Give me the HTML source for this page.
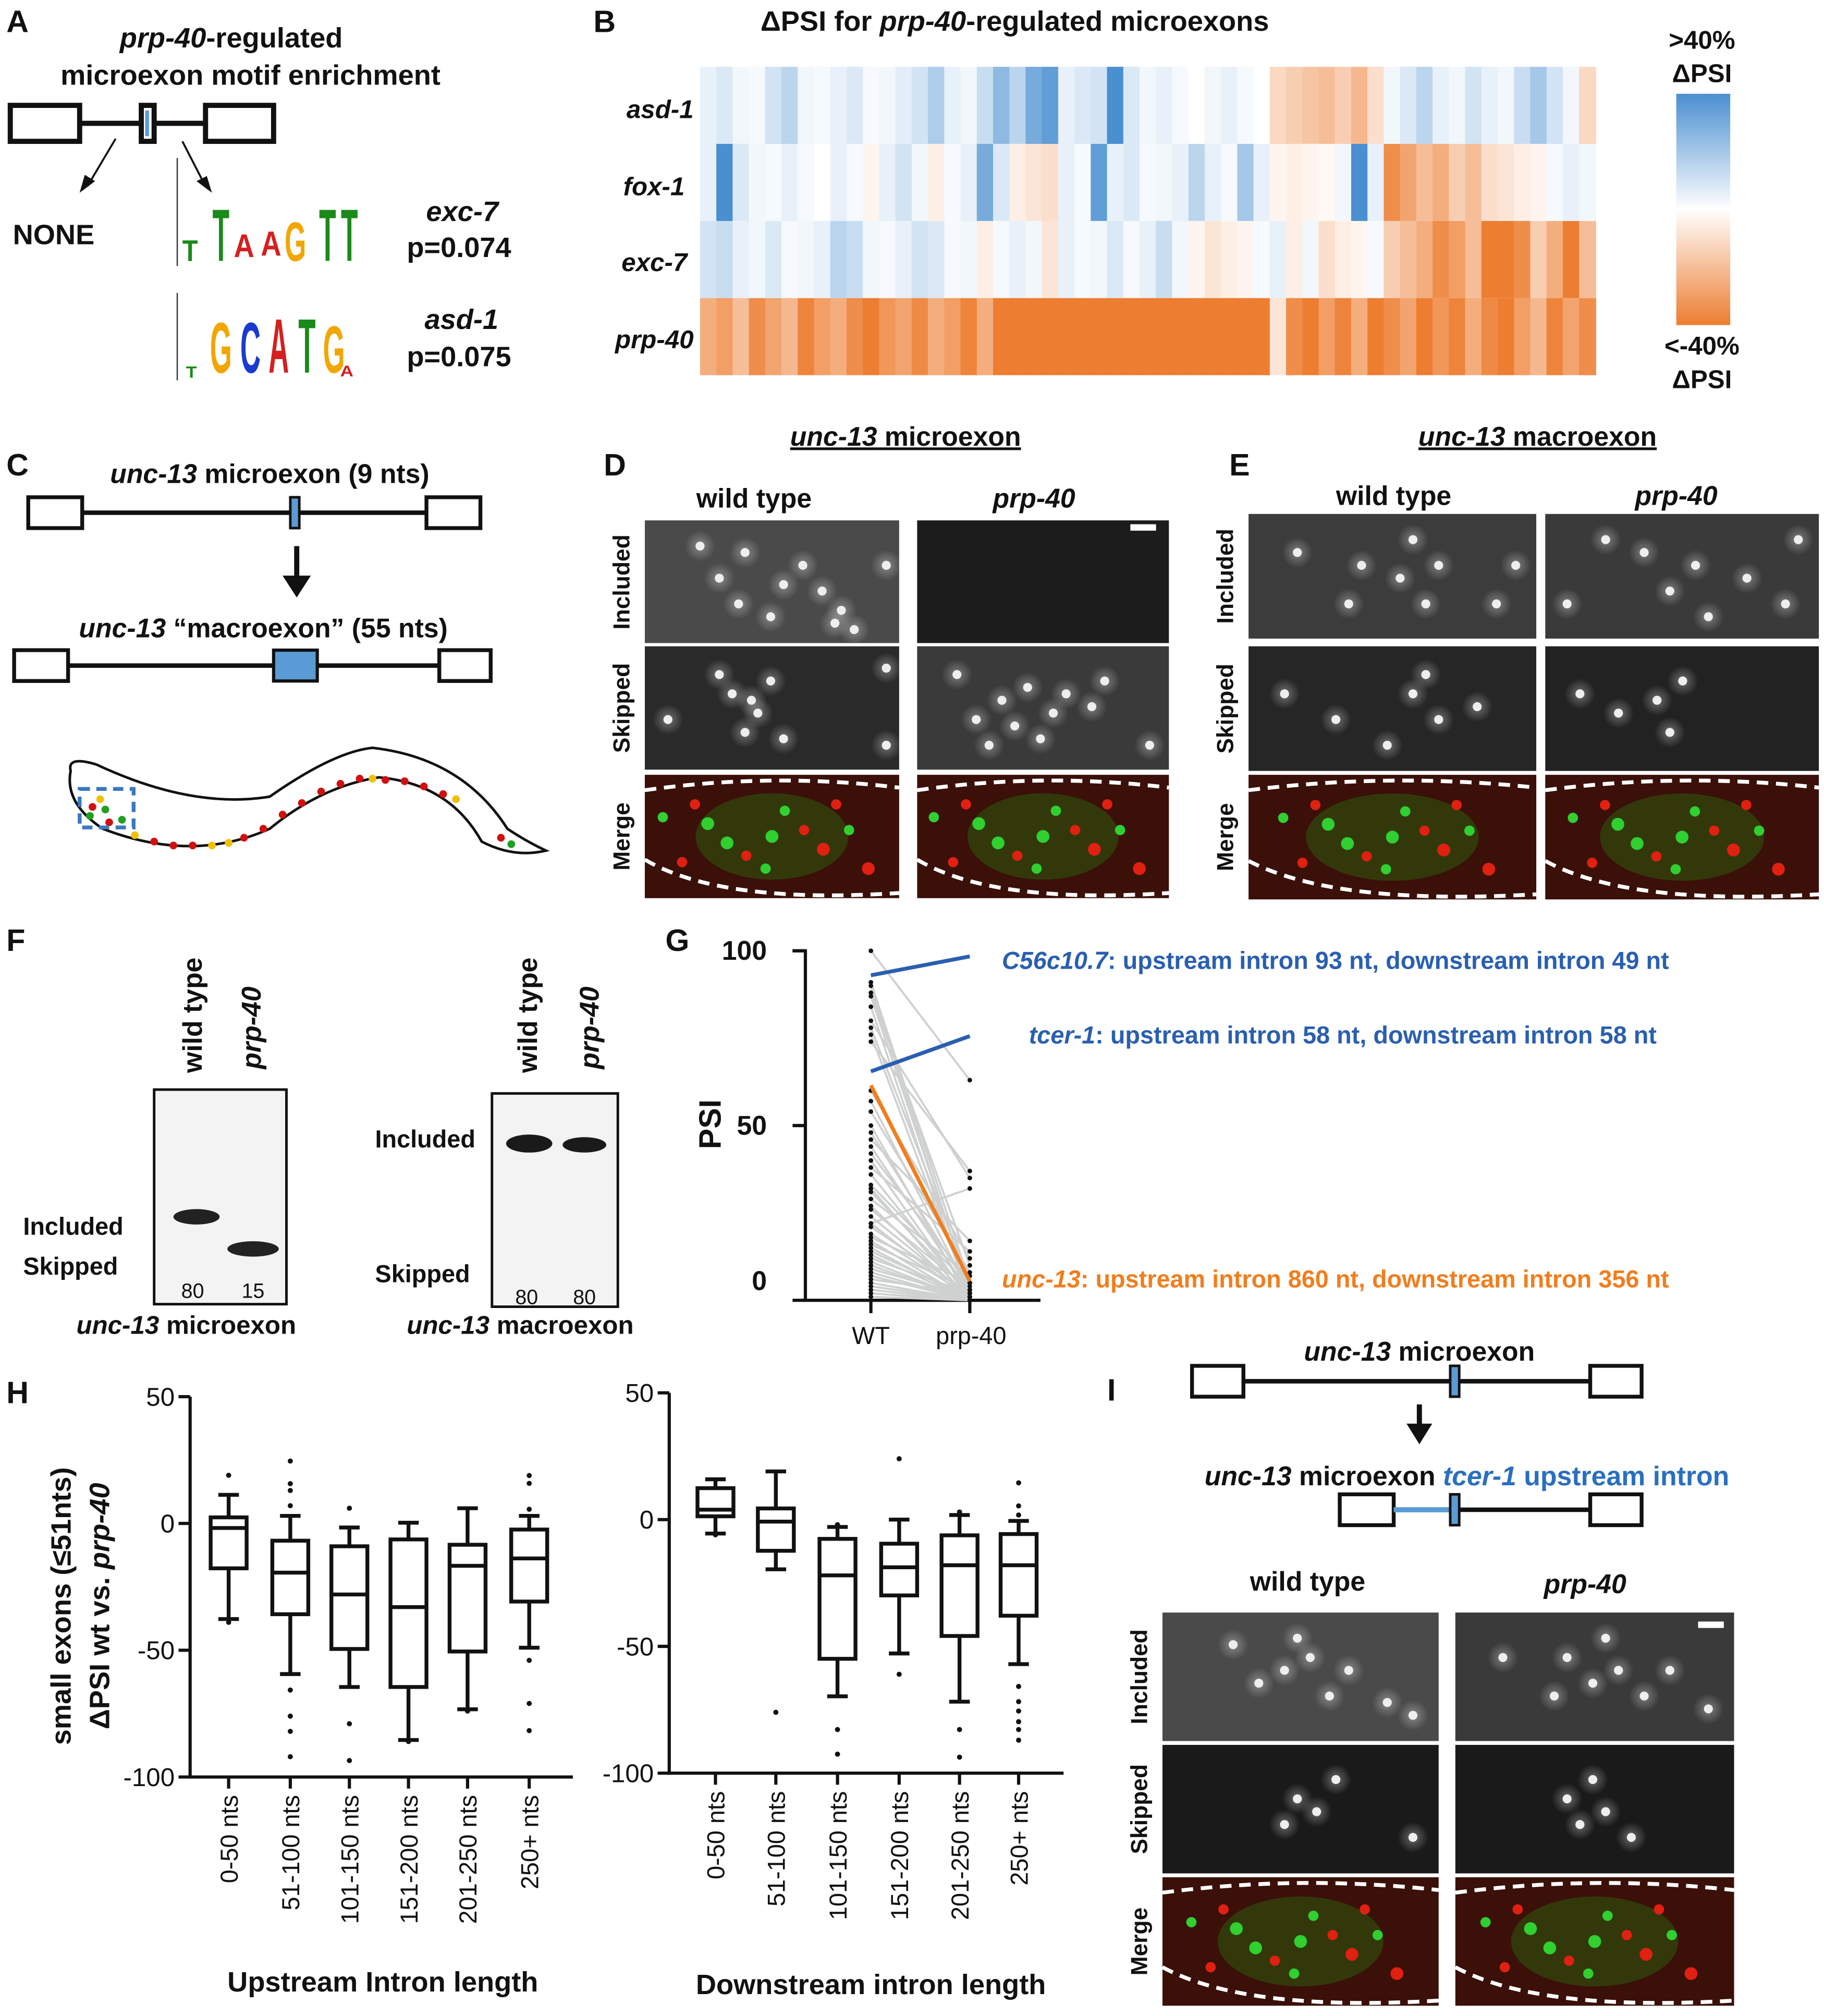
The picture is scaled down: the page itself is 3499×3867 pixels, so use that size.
<!DOCTYPE html>
<html><head><meta charset="utf-8"><style>
html,body{margin:0;padding:0;background:#fff}
svg{display:block}
text{font-family:"Liberation Sans",sans-serif;font-weight:bold;fill:#111}
.it{font-style:italic}
</style></head><body>
<svg id="fig" width="3499" height="3867" viewBox="0 0 1420 1569" preserveAspectRatio="none" xmlns="http://www.w3.org/2000/svg">
<defs>
<linearGradient id="cbar" x1="0" y1="0" x2="0" y2="1"><stop offset="0" stop-color="#4a8fd0"/><stop offset="0.5" stop-color="#ffffff"/><stop offset="1" stop-color="#ed7d31"/></linearGradient>
<radialGradient id="glowW"><stop offset="0" stop-color="#fff"/><stop offset="1" stop-color="#fff" stop-opacity="0"/></radialGradient>
</defs>

<!-- Panel A -->
<g>
<text x="5" y="25" font-size="24">A</text>
<text x="180" y="37" font-size="22" text-anchor="middle"><tspan class="it">prp-40</tspan>-regulated</text>
<text x="195" y="66" font-size="22" text-anchor="middle">microexon motif enrichment</text>
<rect x="8" y="82" width="54" height="28" fill="#fff" stroke="#111" stroke-width="4"/>
<line x1="62" y1="96" x2="160" y2="96" stroke="#111" stroke-width="4"/>
<rect x="110" y="82" width="10" height="28" fill="#fff" stroke="#111" stroke-width="4"/>
<rect x="113" y="86" width="3" height="20" fill="#5b9bd5"/>
<rect x="160" y="82" width="53" height="28" fill="#fff" stroke="#111" stroke-width="4"/>
<line x1="90" y1="108" x2="68" y2="145" stroke="#111" stroke-width="1.5"/><polygon points="62,150 66,136 74,141" fill="#111"/>
<line x1="142" y1="110" x2="160" y2="145" stroke="#111" stroke-width="1.5"/><polygon points="165,150 153,141 161,137" fill="#111"/>
<text x="10" y="190" font-size="22">NONE</text>
<text x="388" y="172" font-size="22" text-anchor="end" class="it">exc-7</text>
<text x="398" y="200" font-size="22" text-anchor="end">p=0.074</text>
<text x="388" y="256" font-size="22" text-anchor="end" class="it">asd-1</text>
<text x="398" y="285" font-size="22" text-anchor="end">p=0.075</text>
<g>
<line x1="138" y1="123" x2="138" y2="207" stroke="#333" stroke-width="1"/>
<text transform="translate(148,203) scale(1.1,1.3)" font-size="18" text-anchor="middle" style="fill:#1a8a1a">T</text>
<text transform="translate(172,203) scale(1.2,3.2)" font-size="18" text-anchor="middle" style="fill:#1a8a1a">T</text>
<text transform="translate(190,200) scale(1.3,1.5)" font-size="17" text-anchor="middle" style="fill:#d42020">A</text>
<text transform="translate(211,199) scale(1.3,1.6)" font-size="17" text-anchor="middle" style="fill:#d42020">A</text>
<text transform="translate(230,203) scale(1.2,2.4)" font-size="18" text-anchor="middle" style="fill:#f2a600">G</text>
<text transform="translate(255,203) scale(1.2,3.2)" font-size="18" text-anchor="middle" style="fill:#1a8a1a">T</text>
<text transform="translate(272,203) scale(1.2,3.2)" font-size="18" text-anchor="middle" style="fill:#1a8a1a">T</text>
</g>
<g>
<line x1="138" y1="228" x2="138" y2="296" stroke="#333" stroke-width="1"/>
<text transform="translate(149,294) scale(1,0.9)" font-size="14" text-anchor="middle" style="fill:#1a8a1a">T</text>
<text transform="translate(172,290) scale(1.1,2.8)" font-size="20" text-anchor="middle" style="fill:#f2a600">G</text>
<text transform="translate(195,290) scale(1.1,2.8)" font-size="20" text-anchor="middle" style="fill:#1a3ad0">C</text>
<text transform="translate(217,290) scale(1.1,3)" font-size="20" text-anchor="middle" style="fill:#d42020">A</text>
<text transform="translate(239,290) scale(1.1,3)" font-size="20" text-anchor="middle" style="fill:#1a8a1a">T</text>
<text transform="translate(260,290) scale(1.1,2.6)" font-size="20" text-anchor="middle" style="fill:#f2a600">G</text>
<text transform="translate(270,293) scale(1.2,1)" font-size="12" text-anchor="middle" style="fill:#d42020">A</text>
</g>
</g>

<!-- Panel B -->
<g>
<text x="462" y="25" font-size="24">B</text>
<text x="790" y="24" font-size="22" text-anchor="middle">ΔPSI for <tspan class="it">prp-40</tspan>-regulated microexons</text>
<text x="540" y="92" font-size="20" text-anchor="end" class="it">asd-1</text>
<text x="533" y="152" font-size="20" text-anchor="end" class="it">fox-1</text>
<text x="535" y="211" font-size="20" text-anchor="end" class="it">exc-7</text>
<text x="540" y="271" font-size="20" text-anchor="end" class="it">prp-40</text>
<g id="heat"></g>
<text x="1325" y="38" font-size="20" text-anchor="middle">&gt;40%</text>
<text x="1325" y="64" font-size="20" text-anchor="middle">ΔPSI</text>
<rect x="1305" y="73" width="42" height="180" fill="url(#cbar)"/>
<text x="1325" y="276" font-size="20" text-anchor="middle">&lt;-40%</text>
<text x="1325" y="302" font-size="20" text-anchor="middle">ΔPSI</text>
</g>

<!-- Panel C -->
<g>
<text x="5" y="370" font-size="24">C</text>
<text x="210" y="376" font-size="21" text-anchor="middle"><tspan class="it">unc-13</tspan> microexon (9 nts)</text>
<rect x="22" y="387" width="42" height="24" fill="#fff" stroke="#111" stroke-width="3"/>
<line x1="64" y1="399" x2="332" y2="399" stroke="#111" stroke-width="3.5"/>
<rect x="226" y="387" width="7" height="24" fill="#5b9bd5" stroke="#111" stroke-width="2"/>
<rect x="332" y="387" width="42" height="24" fill="#fff" stroke="#111" stroke-width="3"/>
<line x1="231" y1="425" x2="231" y2="450" stroke="#111" stroke-width="4"/><polygon points="220,448 242,448 231,465" fill="#111"/>
<text x="205" y="496" font-size="21" text-anchor="middle"><tspan class="it">unc-13</tspan> “macroexon” (55 nts)</text>
<rect x="11" y="506" width="42" height="24" fill="#fff" stroke="#111" stroke-width="3"/>
<line x1="53" y1="518" x2="342" y2="518" stroke="#111" stroke-width="3.5"/>
<rect x="213" y="506" width="34" height="24" fill="#5b9bd5" stroke="#111" stroke-width="2.5"/>
<rect x="342" y="506" width="40" height="24" fill="#fff" stroke="#111" stroke-width="3"/>
<path d="M55,600 Q52,588 75,595 Q150,630 210,620 Q260,585 290,582 Q360,590 395,645 Q410,655 425,662 Q400,668 375,655 Q350,610 295,605 Q250,612 210,645 Q150,672 80,645 Q50,625 55,600 Z" fill="#fff" stroke="#111" stroke-width="2"/>
<g fill="#d01010"><circle cx="120" cy="655" r="3"/><circle cx="135" cy="658" r="3"/><circle cx="150" cy="658" r="3"/><circle cx="190" cy="652" r="3"/><circle cx="205" cy="645" r="3"/><circle cx="220" cy="634" r="3"/><circle cx="235" cy="625" r="3"/><circle cx="250" cy="616" r="3"/><circle cx="265" cy="610" r="3"/><circle cx="280" cy="606" r="3"/><circle cx="300" cy="607" r="3"/><circle cx="315" cy="608" r="3"/><circle cx="330" cy="612" r="3"/><circle cx="345" cy="618" r="3"/><circle cx="390" cy="652" r="3"/><circle cx="72" cy="628" r="3"/><circle cx="85" cy="640" r="3"/></g>
<g fill="#f0c000"><circle cx="105" cy="650" r="3"/><circle cx="165" cy="658" r="3"/><circle cx="178" cy="656" r="3"/><circle cx="290" cy="606" r="3"/><circle cx="355" cy="622" r="3"/><circle cx="78" cy="622" r="3"/></g>
<g fill="#20a020"><circle cx="70" cy="635" r="3"/><circle cx="82" cy="630" r="3"/><circle cx="95" cy="638" r="3"/><circle cx="398" cy="657" r="3"/></g>
<rect x="62" y="614" width="42" height="30" fill="none" stroke="#3a78c0" stroke-width="3" stroke-dasharray="8,5"/>
</g>

<!-- Panel D / E titles -->
<text x="470" y="370" font-size="24">D</text>
<text x="705" y="347" font-size="21" text-anchor="middle" text-decoration="underline"><tspan class="it">unc-13</tspan> microexon</text>
<text x="587" y="395" font-size="21" text-anchor="middle">wild type</text>
<text x="805" y="395" font-size="21" text-anchor="middle" class="it">prp-40</text>
<text x="957" y="370" font-size="24">E</text>
<text x="1197" y="347" font-size="21" text-anchor="middle" text-decoration="underline"><tspan class="it">unc-13</tspan> macroexon</text>
<text x="1085" y="393" font-size="21" text-anchor="middle">wild type</text>
<text x="1305" y="393" font-size="21" text-anchor="middle" class="it">prp-40</text>
<g id="micro"></g>

<!-- Panel F -->
<g>
<text x="5" y="740" font-size="24">F</text>
<text transform="translate(157,835) rotate(-90)" font-size="21">wild type</text>
<text transform="translate(203,832) rotate(-90)" font-size="21" class="it">prp-40</text>
<rect x="120" y="848" width="103" height="167" fill="#f3f3f3" stroke="#111" stroke-width="2"/>
<ellipse cx="153" cy="947" rx="18" ry="6" fill="#222"/>
<ellipse cx="197" cy="972" rx="20" ry="6" fill="#222"/>
<text x="150" y="1010" font-size="16" text-anchor="middle" style="font-weight:normal">80</text>
<text x="197" y="1010" font-size="16" text-anchor="middle" style="font-weight:normal">15</text>
<text x="18" y="961" font-size="19">Included</text>
<text x="18" y="992" font-size="19">Skipped</text>
<text x="145" y="1038" font-size="20" text-anchor="middle"><tspan class="it">unc-13</tspan> microexon</text>
<text transform="translate(418,835) rotate(-90)" font-size="21">wild type</text>
<text transform="translate(466,832) rotate(-90)" font-size="21" class="it">prp-40</text>
<rect x="383" y="851" width="98" height="166" fill="#f3f3f3" stroke="#111" stroke-width="2"/>
<ellipse cx="412" cy="890" rx="18" ry="7" fill="#1a1a1a"/>
<ellipse cx="455" cy="891" rx="17" ry="6" fill="#1a1a1a"/>
<text x="410" y="1015" font-size="16" text-anchor="middle" style="font-weight:normal">80</text>
<text x="455" y="1015" font-size="16" text-anchor="middle" style="font-weight:normal">80</text>
<text x="292" y="893" font-size="19">Included</text>
<text x="292" y="998" font-size="19">Skipped</text>
<text x="405" y="1038" font-size="20" text-anchor="middle"><tspan class="it">unc-13</tspan> macroexon</text>
</g>

<!-- Panel G -->
<g id="panelG">
<text x="518" y="740" font-size="24">G</text>
<text transform="translate(561,875) rotate(-90)" font-size="24" text-anchor="middle">PSI</text>
<text x="678" y="1046" font-size="19" text-anchor="middle" style="font-weight:normal">WT</text>
<text x="756" y="1046" font-size="19" text-anchor="middle" style="font-weight:normal">prp-40</text>
<text x="780" y="754" font-size="19" style="fill:#2a5fb0"><tspan class="it" style="fill:#2a5fb0">C56c10.7</tspan>: upstream intron 93 nt, downstream intron 49 nt</text>
<text x="801" y="812" font-size="19" style="fill:#2a5fb0"><tspan class="it" style="fill:#2a5fb0">tcer-1</tspan>: upstream intron 58 nt, downstream intron 58 nt</text>
<text x="780" y="1002" font-size="19" style="fill:#f07e1e"><tspan class="it" style="fill:#f07e1e">unc-13</tspan>: upstream intron 860 nt, downstream intron 356 nt</text>
</g>

<!-- Panel H -->
<g id="panelH">
<text x="5" y="1092" font-size="24">H</text>
<text transform="translate(55,1250) rotate(-90)" font-size="22" text-anchor="middle">small exons (≤51nts)</text>
<text transform="translate(85,1250) rotate(-90)" font-size="22" text-anchor="middle">ΔPSI wt vs. <tspan class="it">prp-40</tspan></text>
<text x="298" y="1550" font-size="22" text-anchor="middle">Upstream Intron length</text>
<text x="678" y="1552" font-size="22" text-anchor="middle">Downstream intron length</text>
</g>

<!-- Panel I -->
<g>
<text x="862" y="1090" font-size="24">I</text>
<text x="1105" y="1059" font-size="21" text-anchor="middle"><tspan class="it">unc-13</tspan> microexon</text>
<rect x="928" y="1063" width="40" height="24" fill="#fff" stroke="#111" stroke-width="3"/>
<line x1="968" y1="1075" x2="1238" y2="1075" stroke="#111" stroke-width="3.5"/>
<rect x="1129" y="1063" width="7" height="24" fill="#5b9bd5" stroke="#111" stroke-width="2"/>
<rect x="1238" y="1063" width="40" height="24" fill="#fff" stroke="#111" stroke-width="3"/>
<line x1="1105" y1="1093" x2="1105" y2="1110" stroke="#111" stroke-width="4"/><polygon points="1095,1108 1115,1108 1105,1124" fill="#111"/>
<text x="1142" y="1156" font-size="21" text-anchor="middle"><tspan class="it">unc-13</tspan> microexon <tspan class="it" style="fill:#2a6fc0">tcer-1</tspan><tspan style="fill:#2a6fc0"> upstream intron</tspan></text>
<rect x="1043" y="1163" width="42" height="24" fill="#fff" stroke="#111" stroke-width="3"/>
<line x1="1085" y1="1175" x2="1129" y2="1175" stroke="#5b9bd5" stroke-width="4"/>
<line x1="1136" y1="1175" x2="1238" y2="1175" stroke="#111" stroke-width="3.5"/>
<rect x="1129" y="1163" width="7" height="24" fill="#5b9bd5" stroke="#111" stroke-width="2"/>
<rect x="1238" y="1163" width="40" height="24" fill="#fff" stroke="#111" stroke-width="3"/>
<text x="1018" y="1238" font-size="21" text-anchor="middle">wild type</text>
<text x="1234" y="1240" font-size="21" text-anchor="middle" class="it">prp-40</text>
</g>
</svg>

<script>
const NS="http://www.w3.org/2000/svg";
function mk(tag,attrs,parent){const e=document.createElementNS(NS,tag);for(const k in attrs)e.setAttribute(k,attrs[k]);parent.appendChild(e);return e;}

/* ---- Heatmap B data ---- */
const heatRows=["asd-1","fox-1","exc-7","prp-40"];
const asd1Vals=[5,8,3,2,10,15,3,2,5,8,2,3,6,10,18,5,3,12,25,15,30,35,5,8,10,45,8,3,5,2,0,3,5,2,0,-12,-15,-18,-20,-15,-22,-10,3,8,15,5,3,10,5,3,12,20,10,3,-12];
const fox1Vals=[5,45,8,3,2,5,2,0,5,2,-3,5,10,3,-5,2,5,30,8,-5,-8,-10,5,2,35,5,8,2,3,5,15,5,2,20,5,-3,-5,-3,-2,3,40,5,-35,-28,-20,-25,-15,-20,-10,-8,-5,-3,2,5,3];
const exc7Vals=[10,12,5,3,8,2,3,5,15,12,3,2,5,10,8,2,3,-5,2,5,3,-8,5,2,3,8,2,5,12,3,-3,-8,-5,-3,2,5,-5,3,-10,-5,-3,2,-15,-20,-25,-35,-30,-20,-40,-40,-35,-15,-25,-40,-20];
const prp40Vals=[-25,-30,-20,-35,-28,-22,-38,-30,-25,-35,-40,-32,-28,-36,-25,-30,-38,-25,-40,-40,-40,-40,-40,-40,-40,-40,-40,-40,-40,-40,-40,-40,-40,-40,-40,-8,-35,-40,-30,-38,-25,-40,-35,-28,-40,-32,-38,-25,-36,-40,-30,-22,-38,-28,-35];
const heatVals=[asd1Vals,fox1Vals,exc7Vals,prp40Vals];
function heatColor(v){const t=Math.min(Math.abs(v)/40,1);const c=v>=0?[74,143,208]:[237,125,49];return `rgb(${Math.round(255+(c[0]-255)*t)},${Math.round(255+(c[1]-255)*t)},${Math.round(255+(c[2]-255)*t)})`;}
(function(){const g=document.getElementById('heat');const x0=545,x1=1242,y0=52,rh=60;
heatVals.forEach((row,r)=>{const cw=(x1-x0)/row.length;row.forEach((v,c)=>{
const el=mk('rect',{x:x0+c*cw,y:y0+r*rh,width:cw+0.6,height:rh,fill:heatColor(v)},g);

});});})();

/* ---- Panel G data ---- */
const gGroups=["WT","prp-40"];
const gTicks=[0,50,100];
const greyWT=[100,91,90,88,87,84,80,78,76,74,60,57,54,50,48,46,44,42,40,38,36,33,32,31,29,27,26,24,22,22,21,19,18,17,16,15,14,13,12,11,10,9,8,7,6,5,4,3,2,1];
const greyPRP=[63,5,2,10,3,0,35,5,1,37,12,2,8,0,3,17,2,5,0,14,1,4,0,2,7,0,3,1,32,0,2,1,5,0,3,0,1,0,2,0,0,1,0,0,2,0,0,0,0,0];
const hiNames=["C56c10.7","tcer-1","unc-13"];
const hiWT=[93,65.5,61.5];
const hiPRP=[98.4,75.6,5.5];
const hiColors=["#2a5fb0","#2a5fb0","#f07e1e"];
(function(){const g=document.getElementById('panelG');
const X=i=>678+i*77, Y=v=>1012-v*2.72;
const ax=mk('path',{d:`M617,${Y(100)} H627 V1012 H810`,fill:'none',stroke:'#111','stroke-width':2.5},g);

gTicks.forEach(t=>{mk('line',{x1:617,x2:627,y1:Y(t),y2:Y(t),stroke:'#111','stroke-width':2.5},g);
const tx=mk('text',{x:597,y:Y(t)+(t===0?-8:7),'font-size':21,'text-anchor':'end'},g);tx.textContent=t;
});
gGroups.forEach((n,i)=>mk('line',{x1:X(i),x2:X(i),y1:1012,y2:1022,stroke:'#111','stroke-width':2.5},g));
greyWT.forEach((w,i)=>{const l=mk('line',{x1:X(0),y1:Y(w),x2:X(1),y2:Y(greyPRP[i]),stroke:'#cfd1d1','stroke-width':1.6},g);
});
greyWT.forEach((w,i)=>{mk('circle',{cx:X(0),cy:Y(w),r:1.8,fill:'#111'},g);mk('circle',{cx:X(1),cy:Y(greyPRP[i]),r:1.8,fill:'#111'},g);});
hiWT.forEach((w,i)=>{const l=mk('line',{x1:X(0),y1:Y(w),x2:X(1),y2:Y(hiPRP[i]),stroke:hiColors[i],'stroke-width':3},g);
});
})();

/* ---- Panel H data ---- */
const hCats=["0-50 nts","51-100 nts","101-150 nts","151-200 nts","201-250 nts","250+ nts"];
const hTicks=[50,0,-50,-100];
const upMed=[-1.8,-19.4,-28,-33,-16.7,-13.8];
const upQ1=[-17.7,-35.8,-49.5,-64.5,-50.5,-30.8];
const upQ3=[2.4,-6.8,-9,-6.3,-8.4,-2.4];
const upLo=[-37.7,-59.4,-64.5,-85.4,-73.3,-49];
const upHi=[11.3,3,-1.6,0.3,6,3];
const upOut=[[19,-39],[24.6,15.7,13,7,-65.7,-76,-82,-92],[6,-79,-93.5],[-86],[-74],[18.9,15.8,5.6,-54,-71,-81.7]];
const dnMed=[3.9,-0.8,-22,-18.8,-18,-18];
const dnQ1=[1.3,-12.3,-54.9,-29.9,-45.9,-37.9];
const dnQ3=[12.4,4.4,-7.6,-9.5,-6.2,-5.7];
const dnLo=[-5.5,-19.6,-69.7,-52.8,-71.8,-57];
const dnHi=[15.9,19,-2.9,0,1.8,-0.5];
const dnOut=[[-6],[-76],[-82.8,-92.5,-2],[24,-61],[-82.8,-93.7,3],[14.5,5.4,1.8,-65.8,-71.8,-75.5,-79.7,-82.8,-87]];
function boxPlot(side,axX,yTop,yBot,centers,xEnd,med,q1,q3,lo,hi,outs){
const g=document.getElementById('panelH');const Y=v=>yBot-(v+100)*(yBot-yTop)/150;
const ax=mk('path',{d:`M${axX},${yTop} V${yBot} H${xEnd}`,fill:'none',stroke:'#111','stroke-width':2.5},g);

hTicks.forEach(t=>{mk('line',{x1:axX-9,x2:axX,y1:Y(t),y2:Y(t),stroke:'#111','stroke-width':2.5},g);
const tx=mk('text',{x:axX-12,y:Y(t)+7,'font-size':20,'text-anchor':'end',style:'font-weight:normal'},g);tx.textContent=t;
});
hCats.forEach((c,i)=>{const cx=centers[i],w=14;
mk('line',{x1:cx,x2:cx,y1:yBot,y2:yBot+9,stroke:'#111','stroke-width':2.5},g);
const tx=mk('text',{transform:`translate(${cx+7},${yBot+14}) rotate(-90)`,'font-size':19,'text-anchor':'end',style:'font-weight:normal'},g);tx.textContent=c;

mk('line',{x1:cx,x2:cx,y1:Y(hi[i]),y2:Y(q3[i]),stroke:'#111','stroke-width':3},g);
mk('line',{x1:cx,x2:cx,y1:Y(q1[i]),y2:Y(lo[i]),stroke:'#111','stroke-width':3},g);
mk('line',{x1:cx-8,x2:cx+8,y1:Y(hi[i]),y2:Y(hi[i]),stroke:'#111','stroke-width':3},g);
mk('line',{x1:cx-8,x2:cx+8,y1:Y(lo[i]),y2:Y(lo[i]),stroke:'#111','stroke-width':3},g);
const b=mk('rect',{x:cx-w,y:Y(q3[i]),width:2*w,height:Y(q1[i])-Y(q3[i]),fill:'#fff',stroke:'#111','stroke-width':3},g);

mk('line',{x1:cx-w,x2:cx+w,y1:Y(med[i]),y2:Y(med[i]),stroke:'#111','stroke-width':3},g);
outs[i].forEach(o=>mk('circle',{cx:cx,cy:Y(o),r:2,fill:'#111'},g));});}
boxPlot('upstream',148,1087,1383,[178,226,272,318,364,412],446,upMed,upQ1,upQ3,upLo,upHi,upOut);
boxPlot('downstream',521,1084,1380,[557,604,652,700,747,793],828,dnMed,dnQ1,dnQ3,dnLo,dnHi,dnOut);

/* ---- Microscopy (illustrative) ---- */
(function(){const g=document.getElementById('micro');
const rowsLbl=["Included","Skipped","Merge"];
const panels=[
{x:502,w:198,ys:[405,503,603],h:96,bg:['#4a4a4a','#2a2a2a'],dots:[[[560,450],[575,470],[600,480],[640,460],[655,475],[625,440],[545,425],[580,430],[665,490],[690,440],[610,455],[650,485]],[[570,540],[590,555],[600,530],[580,570],[560,525],[610,575],[690,520],[690,580],[520,560],[585,545]]]},
{x:714,w:196,ys:[405,503,603],h:96,bg:['#1c1c1c','#3a3a3a'],dots:[[],[[780,545],[800,535],[820,555],[790,565],[830,540],[760,560],[745,525],[810,575],[850,550],[860,530],[895,580],[770,580]]]},
{x:972,w:224,ys:[400,503,603],h:97,bg:['#3c3c3c','#262626'],dots:[[[1060,440],[1100,420],[1110,470],[1165,470],[1050,470],[1090,450],[1120,440],[1010,430],[1180,440]],[[1100,540],[1120,560],[1080,580],[1040,560],[1110,525],[1000,540],[1150,550]]]},
{x:1203,w:213,ys:[400,503,603],h:97,bg:['#3a3a3a','#222'],dots:[[[1250,420],[1300,460],[1330,480],[1360,450],[1220,470],[1280,430],[1320,440],[1390,470],[1400,420]],[[1290,545],[1300,570],[1260,555],[1310,530],[1230,540]]]},
{x:905,w:215,ys:[1255,1358,1461],h:100,bg:['#4a4a4a','#1a1a1a'],dots:[[[1000,1300],[1020,1290],[1035,1320],[1080,1325],[980,1310],[1010,1275],[1050,1300],[1100,1335],[960,1280]],[[1010,1400],[1025,1410],[1000,1420],[1040,1385],[1100,1430]]]},
{x:1133,w:217,ys:[1255,1358,1461],h:100,bg:['#3a3a3a','#1a1a1a'],dots:[[[1220,1290],[1240,1310],[1260,1300],[1210,1320],[1330,1330],[1250,1275],[1280,1320],[1170,1290],[1300,1300]],[[1230,1420],[1250,1410],[1220,1400],[1270,1430],[1240,1385]]]}];
panels.forEach((p,pi)=>{p.ys.forEach((y,ri)=>{
const r=mk('rect',{x:p.x,y:y,width:p.w,height:p.h,fill:ri<2?p.bg[ri]:'#3a1008'},g);

if(ri<2){p.dots[ri].forEach(d=>{mk('circle',{cx:d[0],cy:d[1],r:12,fill:'url(#glowW)',opacity:0.35},g);mk('circle',{cx:d[0],cy:d[1],r:3.5,fill:'#eee'},g);});}
else{const cx=p.x+p.w/2,cy=y+p.h/2;
mk('ellipse',{cx:cx,cy:cy,rx:p.w*0.3,ry:p.h*0.35,fill:'#2c6a10',opacity:0.45},g);
[[-50,-10],[-20,15],[10,-20],[40,10],[60,-5],[-70,20],[-35,5],[25,-5],[-5,25],[75,25],[-85,-15],[50,-25],[0,0],[-60,-25]].forEach((o,k)=>mk('circle',{cx:cx+o[0],cy:cy+o[1],r:k%3?4:5,fill:k%2?'#e02010':'#30d030'},g));
mk('path',{d:`M${p.x},${y+12} Q${cx},${y-2} ${p.x+p.w},${y+10}`,fill:'none',stroke:'#fff','stroke-width':3,'stroke-dasharray':'9,6'},g);
mk('path',{d:`M${p.x},${y+p.h-30} Q${p.x+p.w*0.3},${y+p.h+5} ${p.x+p.w},${y+p.h-4}`,fill:'none',stroke:'#fff','stroke-width':3,'stroke-dasharray':'9,6'},g);}
if(pi%2===0){const t=mk('text',{transform:`translate(${p.x-12},${y+p.h/2}) rotate(-90)`,'font-size':18,'text-anchor':'middle'},g);t.textContent=rowsLbl[ri];
}
});
mk('line',{x1:p.x,x2:p.x+p.w,y1:p.ys[1]-1.5,y2:p.ys[1]-1.5,stroke:'#fff','stroke-width':2},g);});
mk('rect',{x:880,y:408,width:20,height:5,fill:'#fff'},g);
mk('rect',{x:1322,y:1262,width:20,height:5,fill:'#fff'},g);
})();
</script>
</body></html>
